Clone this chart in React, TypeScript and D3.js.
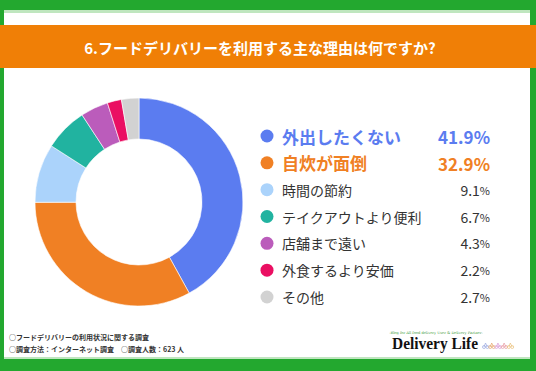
import React, { useRef, useEffect } from 'react';
import * as d3 from 'd3';

// survey answers, percent
const labels = ['外出したくない', '自炊が面倒', '時間の節約', 'テイクアウトより便利', '店舗まで遠い', '外食するより安価', 'その他'];
const values = [41.9, 32.9, 9.1, 6.7, 4.3, 2.2, 2.7];
const colors = ['#5b7cf0', '#f08024', '#abd3fb', '#21b3a0', '#bb5cbb', '#ea0f62', '#d2d2d2'];
const highlighted = [true, true, false, false, false, false, false];

const title = '6.フードデリバリーを利用する主な理由は何ですか?';
const notes = ['○フードデリバリーの利用状況に関する調査', '○調査方法：インターネット調査　○調査人数：623 人'];

const W = 536;
const H = 371;
const FONT = '"Noto Sans CJK JP", "Noto Sans", sans-serif';

export default function App() {
  const svgRef = useRef<SVGSVGElement>(null);

  useEffect(() => {
    const svg = d3.select(svgRef.current);
    svg.selectAll('*').remove();

    // frame
    svg.append('rect').attr('width', W).attr('height', H).attr('fill', '#23a82f');
    svg.append('rect').attr('x', 4).attr('y', 10).attr('width', W - 10).attr('height', 349).attr('fill', '#bfe6bf');
    svg.append('rect').attr('x', 4).attr('y', 13).attr('width', W - 10).attr('height', 344).attr('fill', '#fff');

    // title band
    svg.append('rect').attr('x', 0).attr('y', 25).attr('width', W).attr('height', 43).attr('fill', '#f07f06');
    svg.append('text')
      .attr('x', 260).attr('y', 47)
      .attr('text-anchor', 'middle').attr('dominant-baseline', 'central')
      .attr('fill', '#fff').style('font-family', FONT).style('font-weight', 'bold').style('font-size', '15px')
      .text(title);

    // donut
    const data = labels.map((l, i) => ({ label: l, value: values[i], color: colors[i] }));
    const pie = d3.pie<any>().value(d => d.value).sort(null);
    const arc = d3.arc<any>().innerRadius(63).outerRadius(104);
    const g = svg.append('g').attr('transform', 'translate(139,202)');
    g.selectAll('path')
      .data(pie(data))
      .enter()
      .append('path')
      .attr('d', arc)
      .attr('fill', d => d.data.color)
      .attr('stroke', '#fff')
      .attr('stroke-width', 0.6);

    // legend
    const y = d3.scalePoint<number>().domain(d3.range(labels.length)).range([136, 297]);
    const leg = svg.append('g');
    data.forEach((d, i) => {
      const row = leg.append('g').attr('transform', `translate(0,${y(i)})`);
      row.append('circle').attr('cx', 267).attr('cy', 0).attr('r', 6.5).attr('fill', d.color);
      const big = highlighted[i];
      row.append('text')
        .attr('x', 282).attr('y', 0).attr('dominant-baseline', 'central')
        .attr('fill', big ? d.color : '#333')
        .style('font-family', FONT)
        .style('font-weight', big ? 'bold' : 'normal')
        .style('font-size', big ? '17px' : '14px')
        .text(d.label);
      const t = row.append('text')
        .attr('x', 490).attr('y', 0).attr('dominant-baseline', 'central')
        .attr('text-anchor', 'end')
        .attr('fill', big ? d.color : '#333')
        .style('font-family', FONT)
        .style('font-weight', big ? 'bold' : 'normal')
        .style('font-size', big ? '17px' : '14px');
      t.append('tspan').text(d3.format('.1f')(d.value));
      t.append('tspan').style('font-size', big ? '17px' : '11px').text('%');
    });

    // footnotes
    notes.forEach((n, i) => {
      svg.append('text')
        .attr('x', 9).attr('y', 337 + i * 11.5).attr('dominant-baseline', 'central')
        .attr('fill', '#333').style('font-family', FONT).style('font-weight', 'bold').style('font-size', '7px')
        .text(n);
    });

    // logo
    svg.append('text')
      .attr('x', 436).attr('y', 333).attr('text-anchor', 'middle').attr('dominant-baseline', 'central')
      .attr('fill', '#3a9a3a').style('font-family', '"DejaVu Serif", serif').style('font-size', '3.6px')
      .text('-Blog for All food delivery User & Delivery Partner-');
    svg.append('text')
      .attr('x', 392).attr('y', 349)
      .attr('textLength', 86).attr('lengthAdjust', 'spacingAndGlyphs')
      .attr('fill', '#111').style('font-family', '"Liberation Serif", serif').style('font-weight', 'bold').style('font-size', '17px')
      .text('Delivery Life');
    const iconColors = ['#9aa7e0', '#e5a66a', '#d79ad5', '#e79aa0', '#e9c07a'];
    iconColors.forEach((c, i) => {
      const ix = 484 + i * 6.2;
      svg.append('circle').attr('cx', ix).attr('cy', 347).attr('r', 1.5).attr('fill', 'none').attr('stroke', c).attr('stroke-width', 0.7);
      svg.append('circle').attr('cx', ix + 3.4).attr('cy', 347).attr('r', 1.5).attr('fill', 'none').attr('stroke', c).attr('stroke-width', 0.7);
      svg.append('path').attr('d', `M${ix},${347}L${ix + 1.5},${343}L${ix + 3.4},${347}`).attr('fill', 'none').attr('stroke', c).attr('stroke-width', 0.7);
    });
  }, []);

  return (
    <svg ref={svgRef} width={W} height={H} style={{ position: 'absolute', left: 0, top: 0 }} />
  );
}
